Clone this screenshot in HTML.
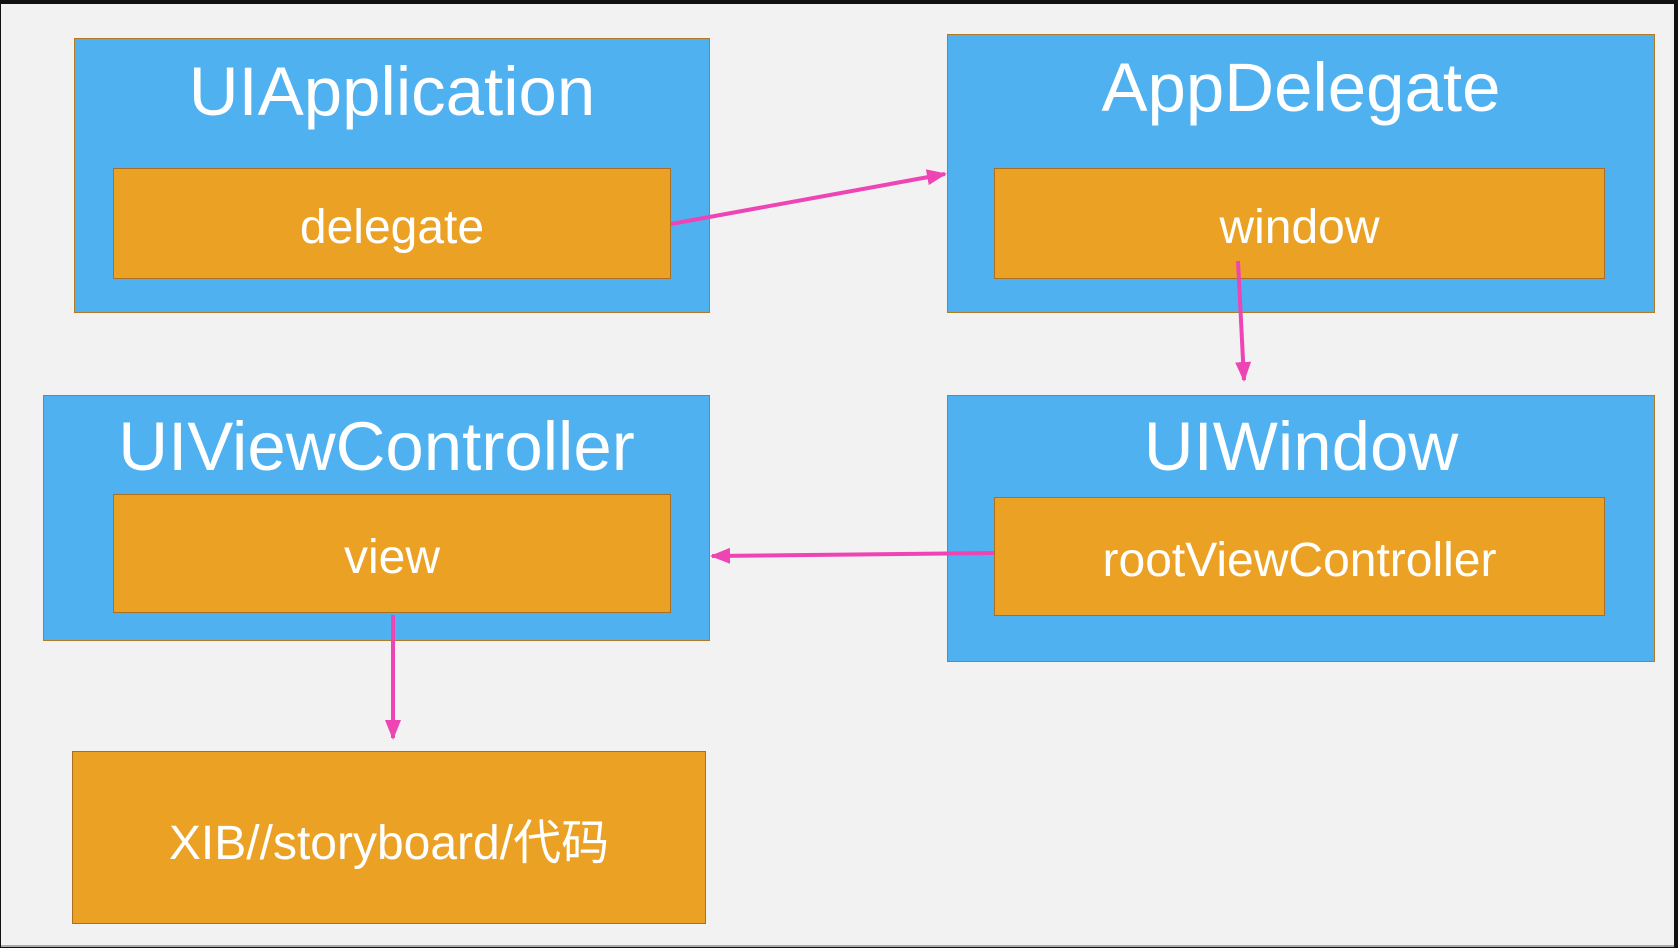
<!DOCTYPE html>
<html><head><meta charset="utf-8"><style>
body{margin:0;width:1678px;height:948px;overflow:hidden;background:#111;font-family:"Liberation Sans","Noto Sans CJK SC",sans-serif}
#bg{position:absolute;left:1px;top:4px;width:1673px;height:941px;background:#f2f2f2;border-bottom:2px solid #aaa}
.o{position:absolute;background:#4fb1f0;border:1.5px solid #b07a26;box-sizing:border-box}
.i{position:absolute;background:#eba124;border:1.5px solid #a87020;box-sizing:border-box;color:#fff;font-size:48px;display:flex;align-items:center;justify-content:center;padding-top:8px}
.t{position:absolute;color:#fff;font-size:69px;text-align:center;line-height:1}
svg{position:absolute;left:0;top:0}
</style></head><body>
<div id="bg"></div>
<div class="o" style="left:74px;top:38px;width:636px;height:275px"></div>
<div class="t" style="left:74px;top:57px;width:636px">UIApplication</div>
<div class="i" style="left:113px;top:168px;width:558px;height:111px">delegate</div>

<div class="o" style="left:947px;top:34px;width:708px;height:279px"></div>
<div class="t" style="left:947px;top:53px;width:708px">AppDelegate</div>
<div class="i" style="left:994px;top:168px;width:611px;height:111px">window</div>

<div class="o" style="left:43px;top:395px;width:667px;height:246px"></div>
<div class="t" style="left:43px;top:412px;width:667px">UIViewController</div>
<div class="i" style="left:113px;top:494px;width:558px;height:119px">view</div>

<div class="o" style="left:947px;top:395px;width:708px;height:267px"></div>
<div class="t" style="left:947px;top:412px;width:708px">UIWindow</div>
<div class="i" style="left:994px;top:497px;width:611px;height:119px">rootViewController</div>

<div class="i" style="left:72px;top:751px;width:634px;height:173px;padding-top:0">XIB//storyboard/代码</div>

<svg width="1678" height="948">
<defs><marker id="a" markerWidth="5" markerHeight="4" refX="4.5" refY="2" orient="auto" markerUnits="strokeWidth"><path d="M0,0L5,2L0,4z" fill="#ee44b4"/></marker></defs>
<g stroke="#ee44b4" stroke-width="4" fill="none" marker-end="url(#a)">
<line x1="671" y1="224" x2="945" y2="174"/>
<line x1="1238" y1="261" x2="1244" y2="380"/>
<line x1="994" y1="553" x2="712" y2="556"/>
<line x1="393" y1="615" x2="393" y2="738"/>
</g></svg>
</body></html>
